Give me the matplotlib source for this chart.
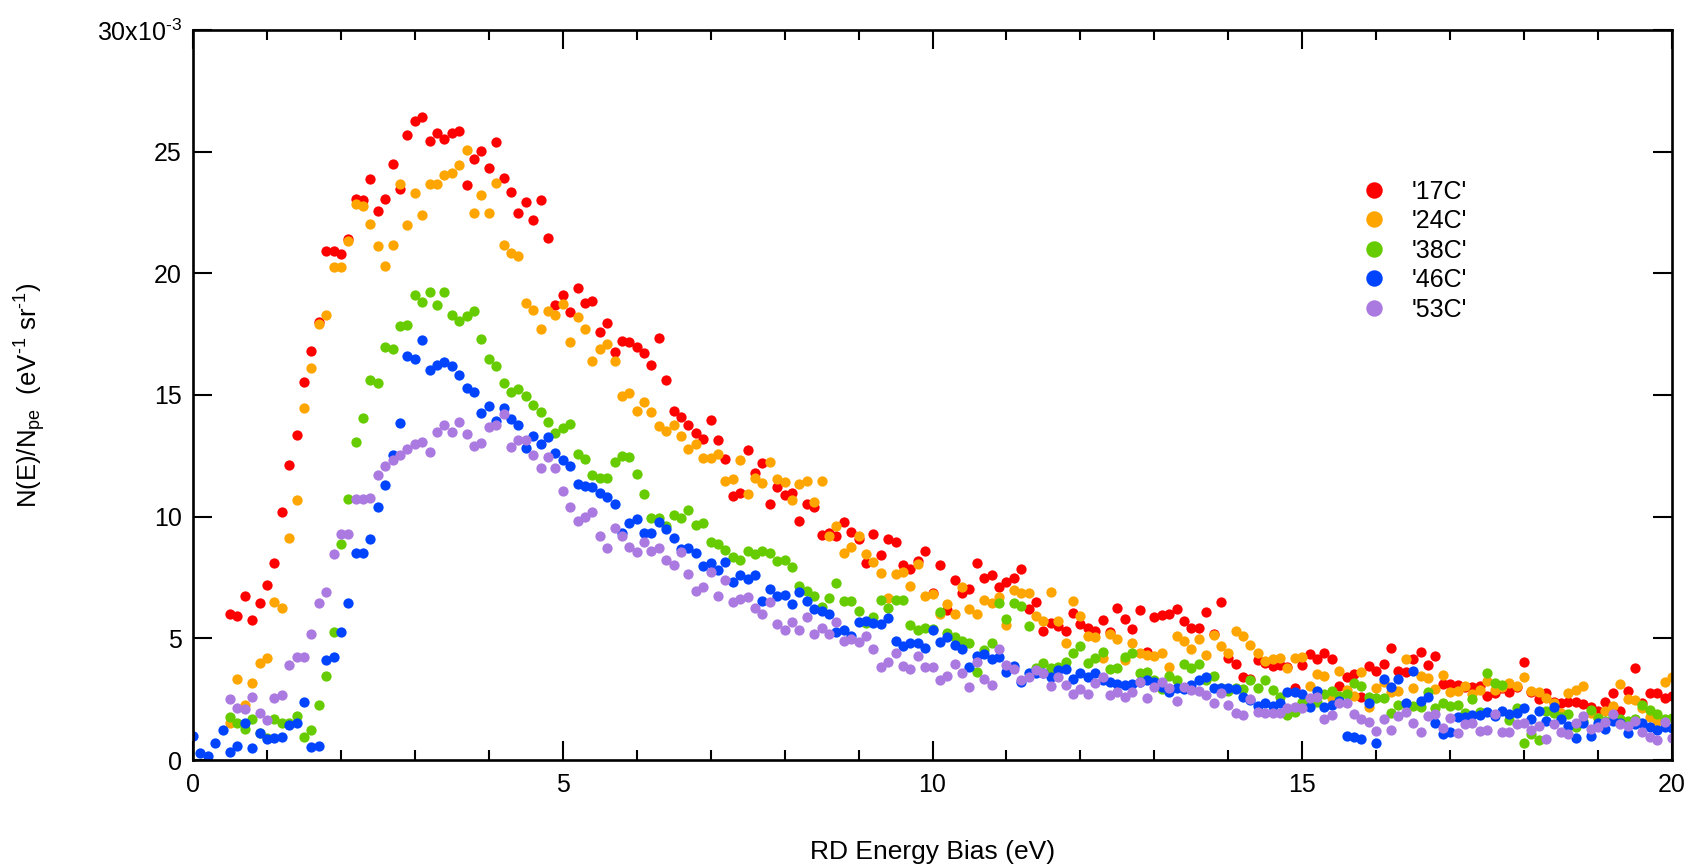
import numpy as np
import matplotlib
matplotlib.use('Agg')
import matplotlib.pyplot as plt

# N(E)/N_pe in units of 1e-3 (eV^-1 sr^-1), sampled every 0.1 eV
red_17c = [
    5.99, 5.92, 6.75, 5.75, 6.44,
    7.18, 8.11, 10.18, 12.11, 13.34, 15.55, 16.82, 18.0, 20.93, 20.93,
    20.79, 21.4, 23.04, 23.0, 23.86, 22.57, 23.04, 24.48, 23.46, 25.7,
    26.27, 26.43, 25.45, 25.75, 25.52, 25.77, 25.84, 23.63, 24.68, 25.02,
    24.32, 25.38, 23.91, 23.34, 22.48, 22.95, 22.18, 23.0, 21.46, 18.71,
    19.13, 18.43, 19.39, 18.77, 18.88, 17.6, 17.96, 16.77, 17.23, 17.18,
    16.99, 16.71, 16.23, 17.33, 15.63, 14.33, 14.11, 13.77, 13.45, 13.18,
    13.96, 13.15, 12.36, 10.86, 10.96, 12.74, 11.81, 12.19, 10.52, 11.23,
    10.89, 10.99, 9.84, 10.52, 10.38, 9.25, 9.33, 9.22, 9.77, 9.37,
    9.07, 8.08, 9.27, 8.41, 9.07, 8.97, 8.01, 7.85, 8.19, 8.60,
    6.88, 8.01, 6.16, 7.40, 6.85, 7.03, 8.08, 7.47, 7.60, 7.1,
    7.33, 7.5, 7.85, 6.19, 6.51, 5.32, 5.64, 5.5, 5.29, 6.03,
    5.59, 5.41, 5.3, 5.75, 5.27, 6.25, 5.79, 5.38, 6.15, 4.45,
    5.89, 5.96, 5.99, 6.21, 5.71, 5.41, 5.41, 6.10, 5.18, 6.48,
    4.21, 3.93, 3.40, 3.33, 4.11, 3.97, 3.88, 3.9, 3.81, 2.97,
    3.90, 4.36, 4.15, 4.41, 4.14, 3.04, 3.4, 3.53, 2.60, 3.86,
    3.67, 3.93, 4.59, 3.66, 3.63, 4.15, 4.45, 3.89, 4.27, 3.11,
    3.11, 3.08, 2.99, 3.01, 3.04, 2.63, 2.74, 2.95, 2.78, 3.01,
    4.04, 2.81, 2.49, 2.77, 2.40, 2.33, 2.40, 2.40, 2.29, 2.19,
    2.0, 2.40, 2.77, 2.03, 2.85, 3.79, 2.33, 2.77, 2.74, 2.56,
    2.63]

orange_24c = [
    1.53, 3.32, 2.26, 3.18, 3.97,
    4.21, 6.5, 6.23, 9.11, 10.68, 14.48, 16.13, 17.91, 18.29, 20.27,
    20.27, 21.32, 22.86, 22.75, 22.02, 21.13, 20.32, 21.18, 23.68, 21.98,
    23.3, 22.39, 23.66, 23.66, 24.05, 24.13, 24.46, 25.05, 22.5, 23.2,
    22.5, 23.71, 21.16, 20.84, 20.73, 18.8, 18.5, 17.73, 18.45, 18.27,
    18.75, 17.18, 18.21, 17.7, 16.41, 16.91, 17.08, 16.4, 14.97, 15.07,
    14.36, 14.73, 14.29, 13.74, 13.52, 13.77, 13.32, 12.77, 12.97, 12.42,
    12.42, 12.56, 11.47, 11.55, 12.33, 10.93, 11.6, 11.37, 12.23, 11.53,
    11.41, 10.68, 11.33, 11.47, 10.59, 11.47, 9.22, 9.63, 8.49, 8.77,
    9.22, 8.47, 8.12, 7.70, 6.67, 7.64, 7.74, 7.16, 8.04, 6.74,
    6.81, 6.0, 6.41, 6.0, 7.10, 6.19, 5.99, 6.58, 6.44, 6.71,
    5.55, 6.99, 6.85, 6.85, 5.93, 5.73, 6.92, 5.73, 4.82, 6.55,
    5.92, 5.11, 5.07, 4.21, 5.18, 4.96, 4.11, 4.82, 4.38, 4.3,
    4.29, 4.41, 3.81, 5.11, 4.9, 4.55, 4.96, 4.32, 5.14, 4.68,
    4.41, 5.30, 5.10, 4.73, 4.38, 4.07, 4.15, 4.21, 3.79, 4.21,
    4.25, 3.04, 3.52, 3.47, 2.56, 3.67, 2.88, 2.64, 3.60, 2.19,
    2.95, 3.2, 2.81, 2.84, 4.14, 2.95, 3.45, 3.36, 2.9, 3.49,
    2.78, 2.85, 3.05, 2.70, 2.88, 3.26, 2.88, 3.01, 3.18, 3.04,
    3.42, 2.85, 2.81, 2.56, 2.33, 1.95, 2.77, 2.88, 3.05, 1.95,
    1.71, 2.01, 2.22, 3.11, 2.49, 2.47, 2.12, 1.78, 1.60, 3.22,
    3.42]

green_38c = [
    1.75, 1.53, 1.27, 1.68, 1.12,
    0.89, 1.67, 1.53, 1.53, 1.82, 0.96, 1.23, 2.25, 3.45, 5.25,
    8.89, 10.71, 13.05, 14.04, 15.63, 15.5, 16.96, 16.91, 17.82, 17.88,
    19.11, 18.84, 19.25, 18.7, 19.25, 18.27, 18.05, 18.23, 18.45, 17.32,
    16.48, 16.18, 15.5, 15.11, 15.23, 14.96, 14.57, 14.32, 13.89, 13.45,
    13.63, 13.8, 12.59, 12.38, 11.71, 11.57, 11.6, 12.26, 12.51, 12.47,
    11.74, 10.93, 9.96, 9.96, 9.6, 10.07, 9.93, 10.27, 9.66, 9.75,
    8.95, 8.88, 8.63, 8.36, 8.22, 8.60, 8.45, 8.60, 8.52, 8.19,
    8.22, 7.92, 7.15, 6.96, 6.75, 6.30, 6.64, 7.26, 6.55, 6.55,
    6.14, 5.64, 5.89, 6.58, 6.23, 6.58, 6.58, 5.55, 5.34, 5.44,
    5.4, 6.10, 5.23, 5.07, 4.89, 4.79, 3.63, 4.52, 4.79, 6.47,
    5.79, 6.44, 6.34, 5.52, 3.77, 3.97, 3.77, 3.84, 4.01, 4.38,
    4.68, 3.97, 4.2, 4.45, 3.74, 3.77, 4.25, 4.41, 3.56, 3.60,
    3.3, 2.90, 3.45, 3.29, 3.93, 3.79, 3.93, 3.3, 3.45, 2.97,
    2.84, 2.97, 2.90, 3.29, 2.97, 3.29, 2.88, 2.60, 1.85, 1.99,
    2.4, 2.5, 2.40, 2.71, 2.85, 2.63, 2.70, 3.18, 3.05, 2.60,
    2.53, 2.53, 1.95, 2.26, 2.3, 2.23, 2.16, 2.78, 2.12, 2.36,
    2.23, 2.26, 1.92, 2.49, 1.99, 3.56, 3.15, 3.08, 1.64, 2.12,
    0.71, 1.07, 0.82, 2.03, 1.92, 1.78, 1.9, 1.37, 1.6, 2.05,
    1.71, 1.6, 1.8, 1.67, 1.6, 1.67, 2.26, 2.05, 1.89, 1.7,
    1.74]

blue_46c = [
    0.99, 0.27, 0.16, 0.68, 1.23, 0.32, 0.59, 1.51, 0.48, 1.1,
    0.85, 0.89, 0.96, 1.45, 1.53, 2.40, 0.52, 0.59, 4.11, 4.22,
    5.25, 6.47, 8.5, 8.52, 9.07, 10.41, 11.3, 12.52, 13.86, 16.59,
    16.48, 17.27, 16.04, 16.25, 16.36, 16.18, 15.82, 15.27, 15.11, 14.25,
    14.54, 13.95, 14.48, 14.02, 13.75, 12.82, 13.30, 13.0, 13.27, 12.61,
    12.34, 12.07, 11.34, 11.25, 11.21, 10.98, 10.79, 10.52, 9.32, 9.75,
    9.89, 9.34, 9.34, 9.79, 9.48, 9.11, 8.66, 8.73, 8.52, 7.99,
    8.1, 7.81, 8.12, 7.30, 7.60, 7.42, 7.60, 6.55, 7.03, 6.75,
    6.78, 6.41, 6.89, 6.53, 6.19, 6.12, 6.0, 5.27, 5.34, 5.11,
    5.68, 5.73, 5.64, 5.58, 5.82, 4.89, 4.68, 4.79, 4.79, 4.59,
    5.34, 4.84, 5.07, 4.73, 4.56, 3.84, 4.27, 4.36, 4.14, 4.22,
    3.6, 3.88, 3.22, 3.56, 3.56, 3.56, 3.42, 3.70, 3.74, 3.33,
    3.56, 3.42, 3.56, 3.29, 3.22, 3.12, 3.08, 3.12, 3.22, 3.29,
    3.22, 3.01, 2.78, 2.95, 2.92, 3.08, 3.29, 3.40, 2.95, 2.95,
    2.95, 2.90, 2.58, 2.47, 2.22, 2.36, 2.22, 2.33, 2.78, 2.78,
    2.71, 2.19, 2.84, 2.16, 2.26, 2.42, 0.99, 0.93, 0.85, 2.36,
    0.68, 3.33, 3.01, 3.33, 2.36, 3.67, 2.44, 2.6, 1.53, 1.07,
    1.16, 1.75, 1.75, 1.85, 1.85, 1.99, 1.81, 2.03, 1.89, 1.95,
    2.15, 1.67, 2.03, 1.60, 2.16, 1.7, 1.41, 0.89, 1.51, 1.0,
    1.53, 1.26, 1.6, 1.51, 1.10, 1.5, 1.51, 1.37, 1.23, 1.37,
    1.30]

purple_53c = [
    2.49, 2.15, 2.08, 2.58, 1.95,
    1.64, 2.53, 2.67, 3.90, 4.25, 4.22, 5.16, 6.44, 6.89, 8.45,
    9.30, 9.30, 10.71, 10.71, 10.77, 11.71, 12.09, 12.34, 12.55, 12.79,
    13.0, 13.05, 12.64, 13.5, 13.75, 13.5, 13.89, 13.41, 12.91, 13.04,
    13.68, 13.75, 14.23, 12.88, 13.16, 13.16, 12.52, 12.02, 12.45, 12.02,
    11.04, 10.41, 9.82, 10.0, 10.21, 9.22, 8.70, 9.52, 9.22, 8.77,
    8.53, 8.95, 8.60, 8.70, 8.22, 8.01, 8.53, 7.63, 6.95, 7.12,
    7.71, 6.75, 7.40, 6.48, 6.60, 6.71, 6.26, 5.99, 6.48, 5.58,
    5.34, 5.66, 5.34, 5.89, 5.16, 5.41, 5.16, 5.68, 4.90, 4.96,
    4.86, 5.11, 4.56, 3.84, 4.01, 4.41, 3.88, 3.74, 4.29, 3.84,
    3.84, 3.29, 3.47, 3.93, 3.59, 2.99, 4.04, 3.32, 3.08, 4.55,
    3.90, 3.73, 3.29, 3.42, 3.70, 3.56, 3.04, 3.42, 3.08, 2.70,
    2.90, 2.71, 3.15, 3.42, 2.67, 2.81, 2.60, 2.81, 3.22, 2.53,
    3.01, 3.22, 2.97, 2.44, 2.99, 2.88, 2.85, 2.67, 2.36, 2.77,
    2.26, 1.95, 1.85, 2.49, 1.99, 1.95, 1.95, 1.95, 2.15, 2.19,
    2.15, 2.53, 2.58, 1.68, 1.85, 2.33, 2.33, 1.88, 1.68, 1.55,
    1.21, 1.68, 1.23, 1.81, 1.99, 1.53, 1.14, 1.81, 1.89, 1.30,
    1.74, 1.12, 1.47, 1.51, 1.21, 1.23, 1.89, 1.14, 1.16, 1.48,
    1.51, 1.23, 1.41, 0.86, 1.47, 1.16, 1.07, 1.53, 1.81, 1.27,
    1.37, 1.55, 1.89, 1.48, 1.40, 1.62, 1.14, 0.93, 0.82, 1.55,
    0.89]

labels = ["'17C'", "'24C'", "'38C'", "'46C'", "'53C'"]
colors = ['#ff0000', '#ffa500', '#66cc00', '#0044ff', '#ab7ae0']
series = [red_17c, orange_24c, green_38c, blue_46c, purple_53c]

plt.rcParams['font.family'] = ['Liberation Sans', 'DejaVu Sans']
plt.rcParams['mathtext.fontset'] = 'custom'
plt.rcParams['mathtext.rm'] = 'Liberation Sans'
plt.rcParams['mathtext.it'] = 'Liberation Sans:italic'

W, H = 1694, 868
fig = plt.figure(figsize=(W / 100, H / 100), dpi=100)
ax = fig.add_axes([193 / W, 1 - 760 / H, (1672 - 193) / W, 730 / H])

for vals, col, lab in zip(series, colors, labels):
    # every trace ends at 20 eV with 0.1 eV steps
    n = len(vals)
    bias = np.round(20.0 - 0.1 * np.arange(n)[::-1], 1)
    ax.plot(bias, vals, linestyle='none', marker='o', markersize=7.4,
            markeredgewidth=0, color=col, label=lab)

ax.set_xlim(0, 20)
ax.set_ylim(0, 30)
ax.set_xticks([0, 5, 10, 15, 20])
ax.set_xticks(np.arange(0, 21, 1), minor=True)
ax.set_yticks([0, 5, 10, 15, 20, 25, 30])
ax.set_yticklabels(['0', '5', '10', '15', '20', '25',
                    r'30x10$^{\mathregular{\text{-}3}}$'])

for s in ax.spines.values():
    s.set_linewidth(1.9)
ax.tick_params(which='both', direction='in', top=True, right=True,
               labelsize=18, width=1.5)
ax.tick_params(which='major', length=13.5)
ax.tick_params(which='minor', length=7)
ax.tick_params(axis='x', pad=9)
ax.tick_params(axis='y', pad=8)

ax.set_xlabel('RD Energy Bias (eV)', fontsize=19)
ax.xaxis.set_label_coords(0.5, -0.11)
ax.set_ylabel(r'N(E)/N$_{\mathregular{pe}}$  (eV$^{\mathregular{\text{-}1}}$ '
              r'sr$^{\mathregular{\text{-}1}}$)', fontsize=18.5)
ax.yaxis.set_label_coords(-0.098, 0.5)

ax.legend(loc='upper left', bbox_to_anchor=(0.79, 0.795), frameon=False,
          fontsize=18, markerscale=1.6, handlelength=1.0, handletextpad=1.0,
          labelspacing=0.22, borderpad=0, borderaxespad=0)

fig.savefig('out.png', dpi=100)
